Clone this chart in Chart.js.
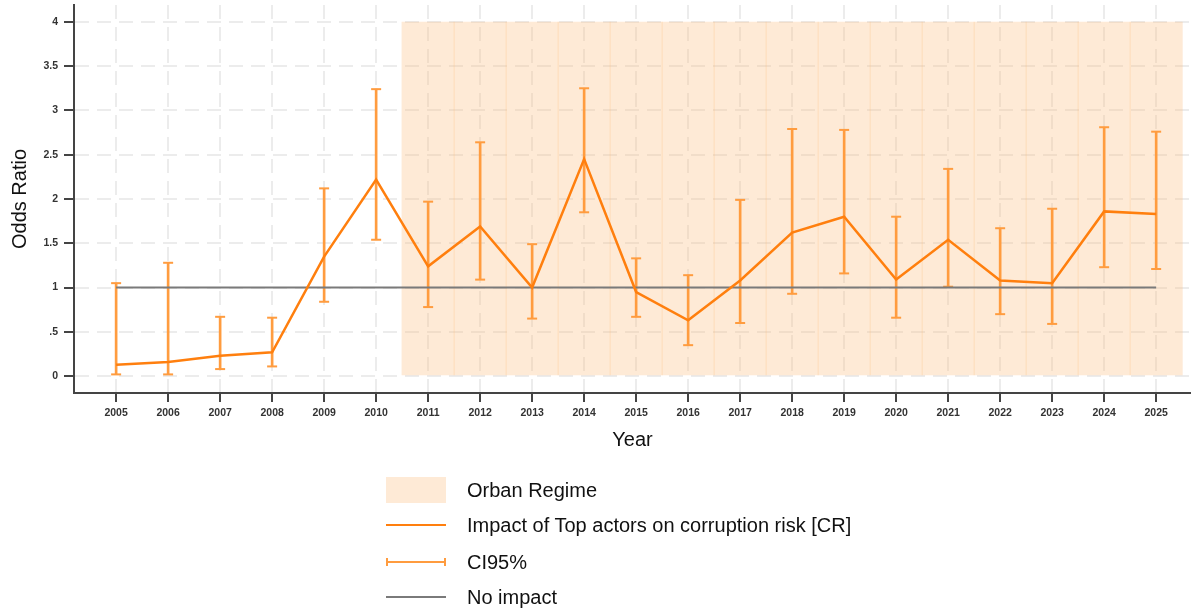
<!DOCTYPE html>
<html>
<head>
<meta charset="utf-8">
<script src="https://cdn.jsdelivr.net/npm/chart.js@4"></script>
<style>
  html, body { margin: 0; padding: 0; background: #fff; }
  #wrap { position: relative; width: 1191px; height: 612px; }
  #legend { position: absolute; left: 386px; top: 0; font-family: 'Liberation Sans', Arial, sans-serif; font-size: 20px; color: #111; }
  .row { position: absolute; left: 0; height: 30px; width: 600px; }
  .row span { position: absolute; left: 81px; top: 50%; transform: translateY(-50%); white-space: nowrap; }
  .sym { position: absolute; left: 0; width: 60px; }
</style>
</head>
<body>
<div id="wrap">
  <canvas id="chart" width="1191" height="612"></canvas>
  <div id="legend"></div>
</div>
<script>
// values
const years = [2005, 2006, 2007, 2008, 2009, 2010, 2011, 2012, 2013, 2014, 2015,
               2016, 2017, 2018, 2019, 2020, 2021, 2022, 2023, 2024, 2025];
const oddsRatio = [0.13, 0.16, 0.23, 0.27, 1.35, 2.22, 1.24, 1.69, 1.0, 2.45, 0.95,
                   0.63, 1.08, 1.62, 1.80, 1.09, 1.54, 1.08, 1.05, 1.86, 1.83];
const ciLow = [0.02, 0.02, 0.08, 0.11, 0.84, 1.54, 0.78, 1.09, 0.65, 1.85, 0.67,
               0.35, 0.60, 0.93, 1.16, 0.66, 1.01, 0.70, 0.59, 1.23, 1.21];
const ciHigh = [1.05, 1.28, 0.67, 0.66, 2.12, 3.24, 1.97, 2.64, 1.49, 3.25, 1.33,
                1.14, 1.99, 2.79, 2.78, 1.80, 2.34, 1.67, 1.89, 2.81, 2.76];
const regimeYears = [2011, 2012, 2013, 2014, 2015, 2016, 2017, 2018, 2019, 2020,
                     2021, 2022, 2023, 2024, 2025];
const regimeRange = [0, 4];
const noImpactYears = [2005, 2025];
const noImpactValue = 1;
const yTicks = [0, 0.5, 1, 1.5, 2, 2.5, 3, 3.5, 4];

const ORANGE = '#ff7f0e';
const CI_ORANGE = '#ff9c3f';
const SHADE = 'rgba(252, 190, 130, 0.33)';
const GREY = '#7a7a7a';
const FONT = "'Liberation Sans', Arial, sans-serif";

const capPoints = [];
years.forEach((yr, i) => {
    capPoints.push({ x: yr, y: ciLow[i] });
    capPoints.push({ x: yr, y: ciHigh[i] });
});

const ctx = document.getElementById('chart');

new Chart(ctx, {
    data: {
        datasets: [
            {
                type: 'bar',
                label: 'Orban Regime',
                data: regimeYears.map(yr => ({ x: yr, y: regimeRange })),
                backgroundColor: SHADE,
                barPercentage: 1.02,
                categoryPercentage: 1,
                grouped: false,
                order: 10
            },
            {
                type: 'bar',
                label: 'CI95%',
                data: years.map((yr, i) => ({ x: yr, y: [ciLow[i], ciHigh[i]] })),
                backgroundColor: CI_ORANGE,
                barThickness: 2,
                grouped: false,
                order: 4
            },
            {
                type: 'scatter',
                label: 'CI caps',
                data: capPoints,
                pointStyle: 'line',
                pointRadius: 5,
                pointBorderWidth: 2,
                borderColor: CI_ORANGE,
                backgroundColor: CI_ORANGE,
                order: 3
            },
            {
                type: 'line',
                label: 'No impact',
                data: noImpactYears.map(yr => ({ x: yr, y: noImpactValue })),
                borderColor: GREY,
                borderWidth: 2,
                pointRadius: 0,
                order: 2
            },
            {
                type: 'line',
                label: 'Impact of Top actors on corruption risk [CR]',
                data: years.map((yr, i) => ({ x: yr, y: oddsRatio[i] })),
                borderColor: ORANGE,
                borderWidth: 2.5,
                pointRadius: 0,
                tension: 0,
                order: 1
            }
        ]
    },
    options: {
        responsive: false,
        animation: false,
        devicePixelRatio: 1,
        layout: { autoPadding: false, padding: { top: 5, right: 0, bottom: 160, left: 0 } },
        plugins: {
            legend: { display: false },
            tooltip: { enabled: false }
        },
        scales: {
            x: {
                type: 'linear',
                offset: false,
                min: 2004.19,
                max: 2025.67,
                afterBuildTicks: scale => { scale.ticks = years.map(v => ({ value: v })); },
                afterFit: scale => {
                    scale.height = 59;
                    scale.paddingLeft = 0;
                    scale.paddingRight = 0;
                },
                ticks: {
                    callback: v => String(v),
                    color: '#333',
                    font: { family: FONT, size: 10.5, weight: 'bold' },
                    padding: 5,
                    maxRotation: 0,
                    autoSkip: false
                },
                grid: {
                    offset: false,
                    color: '#ececec',
                    lineWidth: 2,
                    tickLength: 9,
                    tickColor: '#444',
                    tickWidth: 2,
                    tickBorderDash: []
                },
                border: { display: true, color: '#444', width: 2, dash: [14, 8] },
                title: {
                    display: true,
                    text: 'Year',
                    color: '#111',
                    font: { family: FONT, size: 20 },
                    padding: { top: 0, bottom: 0 }
                }
            },
            y: {
                type: 'linear',
                min: -0.19,
                max: 4.19,
                afterBuildTicks: scale => { scale.ticks = yTicks.map(v => ({ value: v })); },
                afterFit: scale => {
                    scale.width = 74;
                    scale.paddingTop = 0;
                    scale.paddingBottom = 0;
                },
                ticks: {
                    callback: v => (v === 0.5 ? '.5' : String(v)),
                    color: '#333',
                    font: { family: FONT, size: 10.5, weight: 'bold' },
                    padding: 6
                },
                grid: {
                    color: '#ececec',
                    lineWidth: 2,
                    tickLength: 10,
                    tickColor: '#444',
                    tickWidth: 2,
                    tickBorderDash: []
                },
                border: { display: true, color: '#444', width: 2, dash: [14, 8] },
                title: {
                    display: true,
                    text: 'Odds Ratio',
                    color: '#111',
                    font: { family: FONT, size: 20 },
                    padding: { top: 8, bottom: 0 }
                }
            }
        }
    }
});

// legend drawn as html below the plot
const legendItems = [
    { label: 'Orban Regime', kind: 'box', cy: 490 },
    { label: 'Impact of Top actors on corruption risk [CR]', kind: 'line', color: ORANGE, cy: 525 },
    { label: 'CI95%', kind: 'ci', color: CI_ORANGE, cy: 562 },
    { label: 'No impact', kind: 'line', color: GREY, cy: 597 }
];
const legend = document.getElementById('legend');
legendItems.forEach(item => {
    const row = document.createElement('div');
    row.className = 'row';
    row.style.top = (item.cy - 15) + 'px';
    const sym = document.createElement('div');
    sym.className = 'sym';
    if (item.kind === 'box') {
        sym.style.top = '2px';
        sym.style.height = '26px';
        sym.style.background = SHADE;
    } else if (item.kind === 'line') {
        sym.style.top = '14px';
        sym.style.height = '0';
        sym.style.borderTop = '2.5px solid ' + item.color;
    } else {
        sym.style.top = '11px';
        sym.style.height = '8px';
        sym.style.width = '56px';
        sym.style.borderLeft = '2px solid ' + item.color;
        sym.style.borderRight = '2px solid ' + item.color;
        const bar = document.createElement('div');
        bar.style.position = 'absolute';
        bar.style.left = '0';
        bar.style.right = '0';
        bar.style.top = '3px';
        bar.style.borderTop = '2px solid ' + item.color;
        sym.appendChild(bar);
    }
    const txt = document.createElement('span');
    txt.textContent = item.label;
    row.appendChild(sym);
    row.appendChild(txt);
    legend.appendChild(row);
});
</script>
</body>
</html>
